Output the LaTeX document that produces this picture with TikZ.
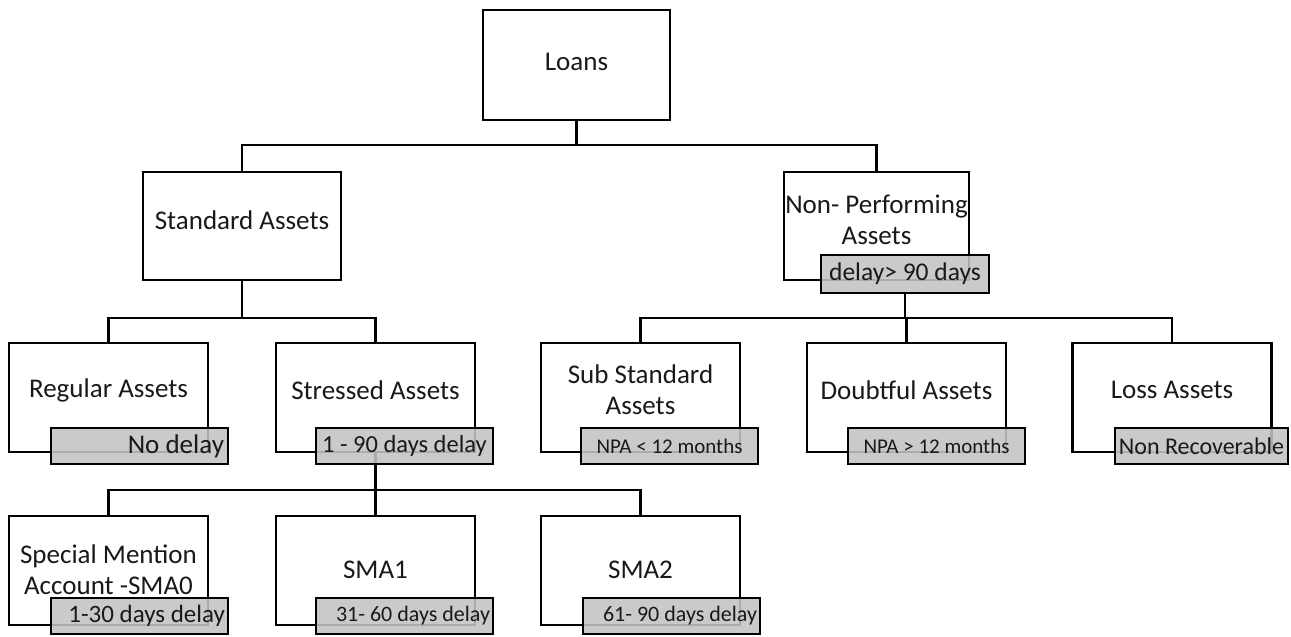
\documentclass[tikz,border=0pt]{standalone}
\usepackage{fontspec}
\setmainfont{Carlito}
\definecolor{tagfill}{RGB}{195,195,195}
\definecolor{ink}{RGB}{25,25,25}
\tikzset{
  box/.style={draw, line width=2.8pt, fill=white, inner sep=0pt},
  tag/.style={draw, line width=2.8pt, fill=tagfill, fill opacity=0.88,
              text opacity=1, text=ink, inner sep=0pt, minimum height=36pt},
  wire/.style={line width=2.8pt},
  lbl/.style={align=center, text=ink, font=\fontsize{27}{31}\selectfont, inner sep=0pt},
  fs/.style={font=\fontsize{#1}{#1}\selectfont}
}
\begin{document}
\begin{tikzpicture}[x=1pt, y=-1pt]
\useasboundingbox (0,0) rectangle (1291,637);

% ---- boxes ----
\node[box, minimum width=187pt, minimum height=110pt] (loans) at (576.5,65) {};
\node[box, minimum width=198pt, minimum height=108pt] (std) at (242,226) {};
\node[box, minimum width=185pt, minimum height=108pt] (npa) at (876.5,226) {};

\node[box, minimum width=199pt, minimum height=109pt] (reg)  at (108.5,397.5) {};
\node[box, minimum width=199pt, minimum height=109pt] (str)  at (375.5,397.5) {};
\node[box, minimum width=199pt, minimum height=109pt] (sub)  at (640.5,397.5) {};
\node[box, minimum width=199pt, minimum height=109pt] (dbt)  at (906.5,397.5) {};
\node[box, minimum width=199pt, minimum height=109pt] (loss) at (1172,397.5) {};

\node[box, minimum width=199pt, minimum height=109pt] (sma0) at (108.5,570.5) {};
\node[box, minimum width=199pt, minimum height=109pt] (sma1) at (375.5,570.5) {};
\node[box, minimum width=199pt, minimum height=109pt] (sma2) at (640.5,570.5) {};

% ---- box captions ----
\node[lbl] (loansT) at (576.5,62) {Loans};
\node[lbl] (stdT) at (242,220) {Standard Assets};
\node[lbl] (npaT) at (876.5,220) {Non- Performing\\Assets};
\node[lbl] (regT) at (108.5,390) {Regular Assets};
\node[lbl] (strT) at (375.5,390) {Stressed Assets};
\node[lbl] (subT) at (640.5,390) {Sub Standard\\Assets};
\node[lbl] (dbtT) at (906.5,390) {Doubtful Assets};
\node[lbl] (lossT) at (1172,390) {Loss Assets};
\node[lbl] (sma0T) at (108.5,570) {Special Mention\\Account -SMA0};
\node[lbl] (sma1T) at (375.5,570) {SMA1};
\node[lbl] (sma2T) at (640.5,570) {SMA2};

% ---- connectors ----
\coordinate (bus1) at (576.5,145);
\draw[wire] (loans.south) -- (bus1);
\draw[wire] (std.north) |- (bus1) -| (npa.north);

\coordinate (bus2a) at (242,318);
\draw[wire] (std.south) -- (bus2a);
\draw[wire] (reg.north) |- (bus2a) -| (str.north);

\coordinate (bus3) at (375.5,490);
\draw[wire] (str.south) -- (bus3);
\draw[wire] (sma0.north) |- (bus3) -| (sma2.north);
\draw[wire] (sma1.north) -- (bus3);

% ---- delay tags ----
\node[tag, minimum width=168pt, minimum height=38pt, fs=25.5] (npatag) at (905,274) {delay> 90 days};

\coordinate (bus2b) at (905,318);
\draw[wire] (npatag.south) -- (bus2b);
\draw[wire] (sub.north) |- (bus2b) -| (loss.north);
\draw[wire] (dbt.north) |- (bus2b);

\node[tag, minimum width=177pt, fs=27, text width=169pt, align=flush right] (regtag) at (139.5,446) {No delay};
\node[tag, minimum width=177pt, fs=24.5] (strtag) at (404.5,446) {1 - 90 days delay};
\node[tag, minimum width=177pt, fs=21] (subtag) at (669.5,446) {NPA < 12 months};
\node[tag, minimum width=177pt, fs=21] (dbttag) at (936.5,446) {NPA > 12 months};
\node[tag, minimum width=173pt, fs=24] (losstag) at (1201.5,446) {Non Recoverable};

\node[tag, minimum width=177pt, fs=25, text width=171pt, align=flush right] (sma0tag) at (139.5,616) {1-30 days delay};
\node[tag, minimum width=177pt, fs=22, text width=171pt, align=flush right] (sma1tag) at (404.5,616) {31- 60 days delay};
\node[tag, minimum width=177pt, fs=22, text width=171pt, align=flush right] (sma2tag) at (671.5,616) {61- 90 days delay};
\end{tikzpicture}
\end{document}
